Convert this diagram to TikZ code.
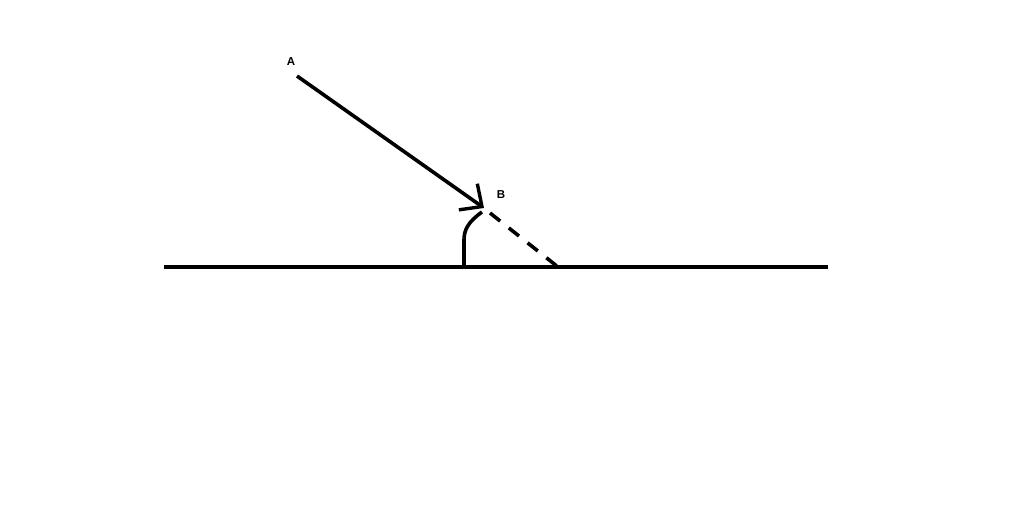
\documentclass[tikz,border=0pt]{standalone}
\usepackage{fontspec}
\setmainfont{Liberation Sans}
\usetikzlibrary{arrows.meta}
\tikzset{
  stroke/.style={line width=3.6pt, black},
  lbl/.style={font=\bfseries\fontsize{11.5}{13}\selectfont, inner sep=0pt},
}
\begin{document}
\begin{tikzpicture}[x=1pt,y=-1pt]
\useasboundingbox (0,0) rectangle (1024,529);
\fill[white] (0,0) rectangle (1024,529);
\coordinate (gL) at (164,267);
\coordinate (gR) at (828,267);
\coordinate (start) at (297,76);
\coordinate (tip) at (484,208);
\coordinate (dS) at (490,213);
\coordinate (dE) at (558,267);
\coordinate (aS) at (482,212);
\coordinate (aM) at (464,240);
\coordinate (aE) at (464,267);
\node[lbl] (A) at (291,62) {A};
\node[lbl] (B) at (501,195) {B};
\draw[stroke] (gL) -- (gR);
\draw[stroke, -{Straight Barb[length=17pt,width=32pt,line width=3.4pt]}] (start) -- (tip);
\draw[stroke, dash pattern=on 13pt off 11pt] (dS) -- (dE);
\draw[stroke] (aS) .. controls (468,222) and (464,230) .. (aM) -- (aE);
\end{tikzpicture}
\end{document}
